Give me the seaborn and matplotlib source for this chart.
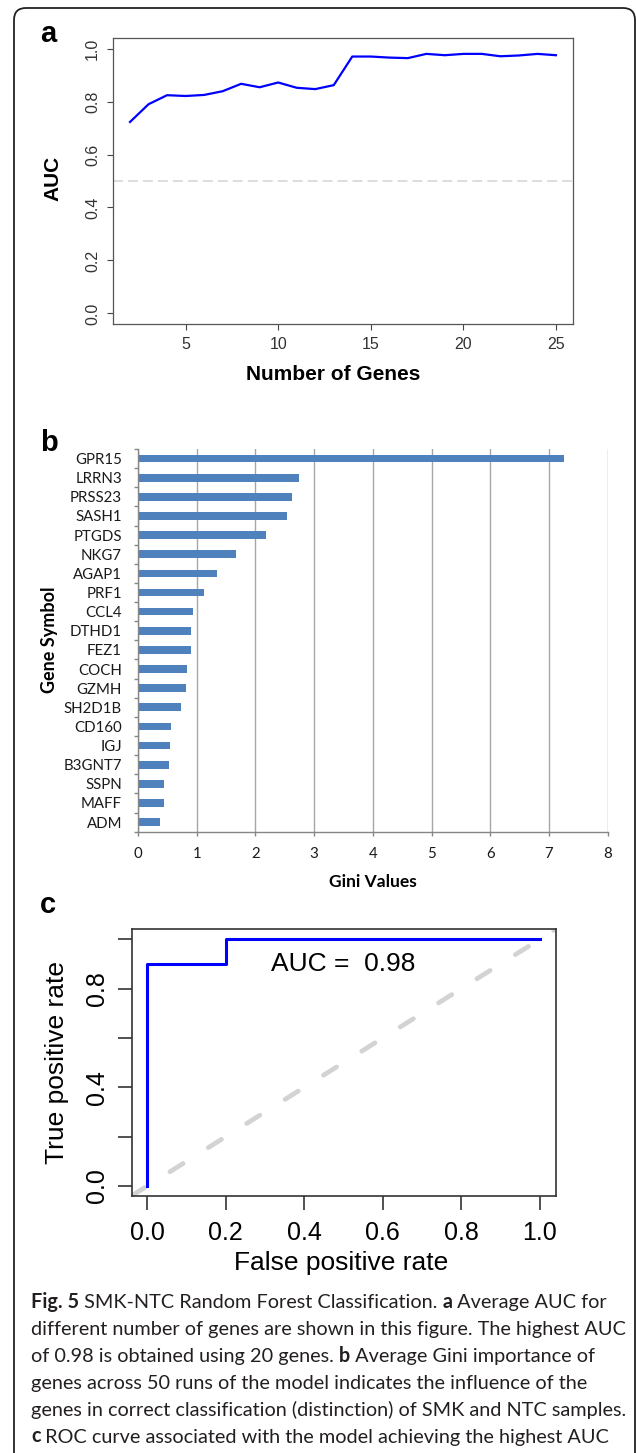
import numpy as np
import pandas as pd
import matplotlib
matplotlib.use("Agg")
import matplotlib.pyplot as plt
from matplotlib.patches import FancyBboxPatch
import seaborn as sns

# ---------------- data ----------------
# panel a: average AUC vs number of genes
n_genes = list(range(2, 26))
auc_by_genes = [0.723, 0.790, 0.824, 0.821, 0.825, 0.839, 0.867, 0.854, 0.872, 0.852,
                0.847, 0.862, 0.970, 0.970, 0.966, 0.964, 0.980, 0.975, 0.980, 0.980,
                0.971, 0.974, 0.980, 0.975]
a_xticks = [5, 10, 15, 20, 25]
a_yticks = [0.0, 0.2, 0.4, 0.6, 0.8, 1.0]
a_ytick_labels = ["0.0", "0.2", "0.4", "0.6", "0.8", "1.0"]

# panel b: Gini importance
genes = ["GPR15", "LRRN3", "PRSS23", "SASH1", "PTGDS", "NKG7", "AGAP1", "PRF1", "CCL4",
         "DTHD1", "FEZ1", "COCH", "GZMH", "SH2D1B", "CD160", "IGJ", "B3GNT7", "SSPN",
         "MAFF", "ADM"]
gini = [7.25, 2.75, 2.63, 2.54, 2.18, 1.67, 1.34, 1.13, 0.93, 0.91, 0.90, 0.84, 0.81,
        0.74, 0.57, 0.55, 0.52, 0.45, 0.44, 0.37]
b_xticks = [0, 1, 2, 3, 4, 5, 6, 7, 8]

# panel c: ROC curve
fpr = [0.0, 0.0, 0.2, 0.2, 1.0]
tpr = [0.0, 0.9, 0.9, 1.0, 1.0]
auc_label = "AUC =  0.98"
c_ticks = [0.0, 0.2, 0.4, 0.6, 0.8, 1.0]
c_xtick_labels = ["0.0", "0.2", "0.4", "0.6", "0.8", "1.0"]
c_ytick_labels = ["0.0", "", "0.4", "", "0.8", ""]

caption_lines = [
    [("Fig. 5", True), (" SMK-NTC Random Forest Classification.", False), (" a", True), (" Average AUC for", False)],
    [("different number of genes are shown in this figure. The highest AUC", False)],
    [("of 0.98 is obtained using 20 genes.", False), (" b", True), (" Average Gini importance of", False)],
    [("genes across 50 runs of the model indicates the influence of the", False)],
    [("genes in correct classification (distinction) of SMK and NTC samples.", False)],
    [("c", True), (" ROC curve associated with the model achieving the highest AUC", False)],
]

# ---------------- figure ----------------
plt.rcParams["font.family"] = ["Liberation Sans", "DejaVu Sans"]
W, H = 636, 1453
fig = plt.figure(figsize=(W / 100, H / 100), dpi=100)
fig.patch.set_facecolor("white")


def rect(l, t, r, b):
    return [l / W, 1 - b / H, (r - l) / W, (b - t) / H]


# outer rounded border
border = FancyBboxPatch((14, -30), 621, 1453 - 8 + 30,
                        boxstyle="round,pad=0,rounding_size=12",
                        transform=None, fill=False, lw=1.3, ec="#222222")
fig.add_artist(border)

# ---------------- panel a ----------------
ax = fig.add_axes(rect(113, 38, 573, 324))
sns.lineplot(x=n_genes, y=auc_by_genes, ax=ax, color="#0000ff", linewidth=1.6)
ax.axhline(0.5, color="#d3d3d3", lw=1.1, dashes=(6.5, 3.3))
ax.set_xlim(2 - 0.92, 25 + 0.92)
ax.set_ylim(-0.04, 1.04)
ax.set_xticks(a_xticks)
ax.set_yticks(a_yticks)
ax.set_yticklabels(a_ytick_labels, rotation=90, va="center")
ax.tick_params(length=4.3, width=0.8, color="#444444", labelcolor="#333333",
               labelsize=11.5, pad=5)
for sp in ax.spines.values():
    sp.set_color("#555555")
    sp.set_linewidth(0.9)
ax.set_xlabel("Number of Genes", fontsize=15, fontweight="bold", va="center")
ax.xaxis.set_label_coords((333 - 113) / 460, (324 - 375) / 286)
ax.set_ylabel("AUC", fontsize=15, fontweight="bold", va="center", ha="center")
ax.yaxis.set_label_coords((53 - 113) / 460, (324 - 178) / 286)

# ---------------- panel b ----------------
axb = fig.add_axes(rect(138, 449, 607.6, 831.7))
df_b = pd.DataFrame({"gene": genes, "gini": gini})
sns.barplot(data=df_b, x="gini", y="gene", orient="h", color="#4F81BD",
            saturation=1, width=0.4, ax=axb)
axb.set_xlim(0, 8)
axb.set_ylim(len(genes) - 0.5, -0.5)
axb.set_xticks(b_xticks)
axb.grid(axis="x", color="#a6a6a6", lw=1.0)
axb.grid(axis="y", visible=False)
axb.set_axisbelow(True)
axb.spines["top"].set_visible(False)
axb.spines["right"].set_visible(False)
for s in ("left", "bottom"):
    axb.spines[s].set_color("#868686")
    axb.spines[s].set_linewidth(1.0)
axb.set_yticks(np.arange(-0.5, len(genes), 1), minor=True)
axb.tick_params(axis="y", which="major", length=0, pad=11.5, labelsize=10.8,
                labelcolor="#1a1a1a")
axb.tick_params(axis="y", which="minor", length=3.2, color="#868686", width=1)
axb.tick_params(axis="x", length=3.2, color="#868686", width=1, pad=8,
                labelsize=10.8, labelcolor="#1a1a1a")
for lbl in axb.get_xticklabels() + axb.get_yticklabels():
    lbl.set_family("Lato")
axb.set_xlabel("Gini Values", fontsize=12.5, fontweight="bold", family="Lato", va="center")
axb.xaxis.set_label_coords((373 - 138) / 469.6, (831.7 - 881.7) / 382.6)
axb.set_ylabel("Gene Symbol", fontsize=13, fontweight="bold", family="Lato",
               va="center", ha="center")
axb.yaxis.set_label_coords((49.5 - 138) / 469.6, (831.7 - 640) / 382.6)

# ---------------- panel c ----------------
axc = fig.add_axes(rect(131.5, 929.4, 555.5, 1195.9))
axc.set_xlim(-0.04, 1.04)
axc.set_ylim(-0.04, 1.04)
lims = axc.get_xlim()
# reference diagonal y = x across the full plotting region
axc.plot(lims, lims, color="#d3d3d3", lw=3.4, linestyle=(0, (3.3, 6.3)),
         dash_capstyle="round", zorder=1)
sns.lineplot(x=fpr, y=tpr, sort=False, estimator=None, ax=axc,
             color="#0000ff", linewidth=2.2, zorder=2)
axc.text(0.5, 0.9, auc_label, ha="center", va="center", fontsize=19)
axc.set_xlim(-0.04, 1.04)
axc.set_ylim(-0.04, 1.04)
axc.set_xticks(c_ticks)
axc.set_xticklabels(c_xtick_labels)
axc.set_yticks(c_ticks)
axc.set_yticklabels(c_ytick_labels, rotation=90, va="center")
axc.tick_params(length=10, width=1.1, color="#222222", labelsize=18, pad=6)
axc.tick_params(axis="x", pad=8)
for sp in axc.spines.values():
    sp.set_color("#333333")
    sp.set_linewidth(1.2)
axc.set_xlabel("False positive rate", fontsize=19, va="center")
axc.xaxis.set_label_coords((340.7 - 131.5) / 424, (1195.9 - 1263.3) / 266.5)
axc.set_ylabel("True positive rate", fontsize=19, va="center", ha="center")
axc.yaxis.set_label_coords((56.8 - 131.5) / 424, (1195.9 - 1063) / 266.5)

# ---------------- panel letters ----------------
for letter, x, y in (("a", 48, 41.7), ("b", 49, 450.7), ("c", 48, 912.7)):
    fig.text(x / W, 1 - y / H, letter, fontsize=21, fontweight="bold",
             ha="center", va="baseline")

# ---------------- caption ----------------
renderer = fig.canvas.get_renderer()


def text_width(s, size, bold):
    t1 = fig.text(0, 0, s + "x", fontsize=size, family="Lato",
                  fontweight="bold" if bold else "normal")
    t2 = fig.text(0, 0, "x", fontsize=size, family="Lato",
                  fontweight="bold" if bold else "normal")
    w = t1.get_window_extent(renderer).width - t2.get_window_extent(renderer).width
    t1.remove()
    t2.remove()
    return w


ref_w = text_width(caption_lines[1][0][0], 12, False)
cap_size = 12 * (624 - 31) / ref_w

x0 = 31
base0 = 1308
step = 26.9
for i, runs in enumerate(caption_lines):
    x = x0
    y = base0 + i * step
    for txt, bold in runs:
        fig.text(x / W, 1 - y / H, txt, fontsize=cap_size, family="Lato",
                 fontweight="bold" if bold else "normal", color="#231f20",
                 ha="left", va="baseline")
        x += text_width(txt, cap_size, bold)

fig.savefig("out.png", dpi=100, facecolor="white")
